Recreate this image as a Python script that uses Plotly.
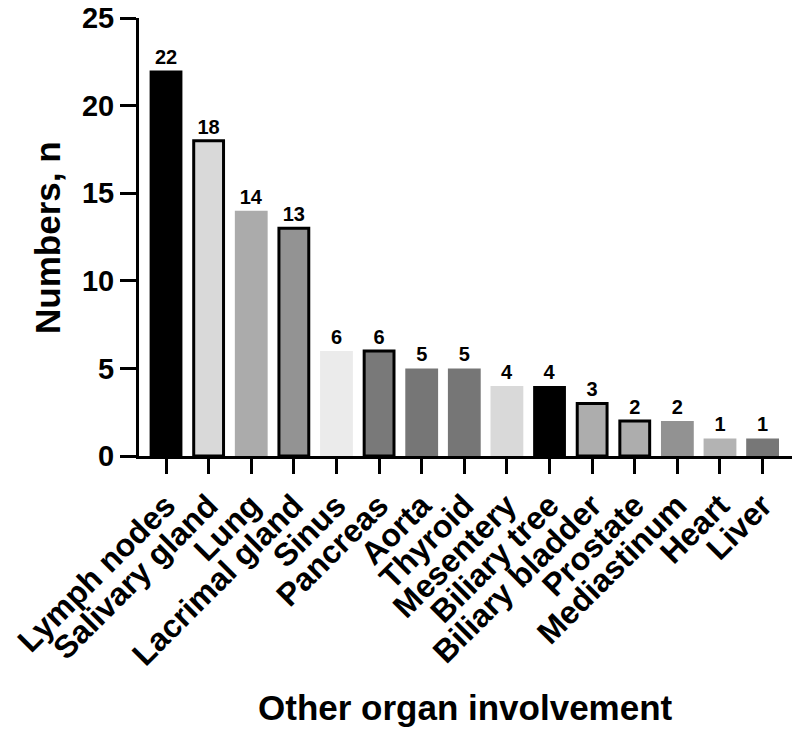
import plotly.graph_objects as go

categories = ["Lymph nodes", "Salivary gland", "Lung", "Lacrimal gland", "Sinus",
              "Pancreas", "Aorta", "Thyroid", "Mesentery", "Biliary tree",
              "Biliary bladder", "Prostate", "Mediastinum", "Heart", "Liver"]
values = [22, 18, 14, 13, 6, 6, 5, 5, 4, 4, 3, 2, 2, 1, 1]
fill_colors = ["#000000", "#d9d9d9", "#ababab", "#939393", "#ebebeb",
               "#797979", "#767676", "#767676", "#d9d9d9", "#000000",
               "#adadad", "#adadad", "#929292", "#b3b3b3", "#777777"]
has_border = [False, True, False, True, False,
              True, False, False, False, False,
              True, True, False, False, False]
y_ticks = [0, 5, 10, 15, 20, 25]

FONT = "Arial, Liberation Sans, sans-serif"

line_w = [3 if b else 0 for b in has_border]
bar_w = [0.70 if b else 0.77 for b in has_border]

fig = go.Figure(go.Bar(
    x=categories,
    y=values,
    width=bar_w,
    marker=dict(color=fill_colors, line=dict(color="black", width=line_w)),
    text=[str(v) for v in values],
    textposition="outside",
    cliponaxis=False,
    textfont=dict(family=FONT, size=20, color="black", weight="bold"),
))

fig.update_layout(
    width=800, height=737,
    margin=dict(l=139, r=8, t=18, b=281),
    plot_bgcolor="white", paper_bgcolor="white",
    showlegend=False,
    font=dict(family=FONT, color="black"),
    xaxis=dict(
        range=[-0.634, 14.69],
        showline=True, linecolor="black", linewidth=3,
        ticks="outside", ticklen=15, tickwidth=3, tickcolor="black",
        tickangle=-45, ticklabeloverflow="allow",
        tickfont=dict(family=FONT, size=32, color="black", weight="bold"),
        showgrid=False, zeroline=False, automargin=False,
    ),
    yaxis=dict(
        range=[0, 25],
        tickvals=y_ticks,
        showline=True, linecolor="black", linewidth=3,
        ticks="outside", ticklen=16, tickwidth=3, tickcolor="black",
        ticklabeloverflow="allow",
        tickfont=dict(family=FONT, size=29, color="black", weight="bold"),
        showgrid=False, zeroline=False, automargin=False,
    ),
    annotations=[
        dict(text="Numbers, n", xref="paper", yref="paper",
             x=-0.141, y=0.5, xanchor="center", yanchor="middle",
             textangle=-90, showarrow=False,
             font=dict(family=FONT, size=35, color="black", weight="bold")),
        dict(text="Other organ involvement", xref="paper", yref="paper",
             x=0.5, y=-0.575, xanchor="center", yanchor="middle",
             showarrow=False,
             font=dict(family=FONT, size=35, color="black", weight="bold")),
    ],
)

fig.write_html("out.html",
               config={"displayModeBar": False},
               post_script="document.body.style.margin='0';document.body.style.overflow='hidden';")
